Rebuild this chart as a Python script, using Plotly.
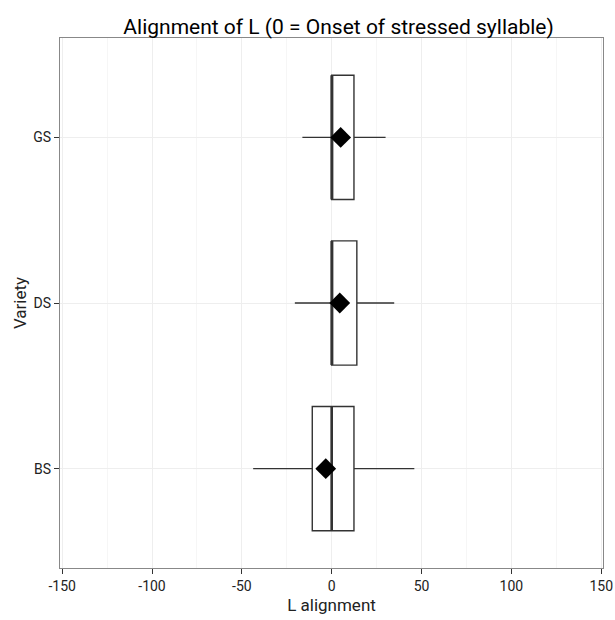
import plotly.graph_objects as go

varieties = ["BS", "DS", "GS"]
positions = [1, 2, 3]
q1 = [-10.8, 0.0, 0.0]
median = [0.0, 0.0, 0.0]
q3 = [12.4, 14.0, 12.4]
lower = [-43.7, -20.5, -16.3]
upper = [46.0, 34.8, 30.0]
means = [-3.3, 4.5, 5.0]
x_ticks = [-150, -100, -50, 0, 50, 100, 150]
x_tick_labels = ["-150", "-100", "-50", "0", "50", "100", "150"]
box_w = 0.75

fig = go.Figure()
for i, v in enumerate(varieties):
    fig.add_trace(go.Box(
        y=[positions[i]], q1=[q1[i]], median=[median[i]], q3=[q3[i]],
        lowerfence=[lower[i]], upperfence=[upper[i]],
        orientation="h", width=box_w, whiskerwidth=0,
        fillcolor="white", line=dict(color="#333333", width=1.4),
        boxpoints=False, showlegend=False, hoverinfo="skip",
    ))
    fig.add_trace(go.Scatter(
        x=[median[i], median[i]],
        y=[positions[i] - box_w / 2, positions[i] + box_w / 2],
        mode="lines", line=dict(color="#333333", width=2.6),
        showlegend=False, hoverinfo="skip",
    ))
fig.add_trace(go.Scatter(
    x=means, y=positions, mode="markers",
    marker=dict(symbol="diamond", size=16, color="black"),
    showlegend=False,
))

font_family = "Liberation Sans Narrow, Roboto, Liberation Sans, Arial, sans-serif"
fig.update_layout(
    width=615, height=620,
    margin=dict(l=60, r=12, t=38, b=52, autoexpand=False),
    paper_bgcolor="white", plot_bgcolor="white",
    font=dict(family=font_family, color="#222222"),
    title=dict(text="Alignment of L (0 = Onset of stressed syllable)",
               x=0.513, xref="paper", xanchor="center",
               y=1, yref="paper", yanchor="bottom", pad=dict(b=4),
               font=dict(size=21, color="black", family=font_family)),
    xaxis=dict(range=[-151.2, 151], tickvals=x_ticks, ticktext=x_tick_labels,
               ticks="outside", ticklen=5, tickcolor="#333333", tickwidth=1.3,
               tickfont=dict(size=14, color="#222222"), automargin=False,
               showgrid=True, gridcolor="#eeeeee", gridwidth=1,
               minor=dict(dtick=25, tick0=0, showgrid=True, gridcolor="#f6f6f6", gridwidth=0.8, ticks=""),
               zeroline=False, showline=True, linecolor="#888888", linewidth=1.2, mirror=True,
               title=dict(text="L alignment", font=dict(size=17, color="#222222"), standoff=6)),
    yaxis=dict(range=[0.4, 3.6], tickvals=positions, ticktext=varieties,
               ticks="outside", ticklen=5, tickcolor="#333333", tickwidth=1.3,
               tickfont=dict(size=14, color="#222222"), automargin=False,
               showgrid=True, gridcolor="#eeeeee", gridwidth=1,
               zeroline=False, showline=True, linecolor="#888888", linewidth=1.2, mirror=True,
               title=dict(text="Variety", font=dict(size=17, color="#222222"), standoff=2)),
)
fig.write_html("out.html")
